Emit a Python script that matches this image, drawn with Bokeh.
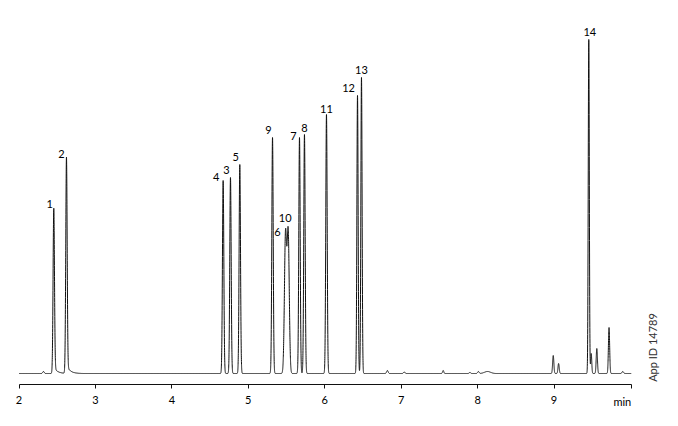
import numpy as np
from bokeh.plotting import figure
from bokeh.models import Range1d, FixedTicker, Label, ColumnDataSource, LinearAxis
from bokeh.core.properties import value
from bokeh.embed import file_html
from bokeh.resources import INLINE

# ---- data ----
peak_labels = ["1", "2", "4", "3", "5", "9", "6", "10", "7", "8", "11", "12", "13", "14"]
peak_times = [2.455, 2.621, 4.671, 4.767, 4.889, 5.317, 5.487, 5.522, 5.670, 5.735, 6.023, 6.429, 6.481, 9.455]
peak_heights = [162, 212, 193, 196, 209, 236, 138, 140, 236, 239, 259, 278, 296, 334]
peak_widths = [0.009, 0.009, 0.009, 0.009, 0.009, 0.009, 0.014, 0.014, 0.009, 0.009, 0.009, 0.008, 0.008, 0.007]
peak_tails = [0.04, 0.04, 0, 0, 0, 0, 0, 0, 0, 0, 0, 0, 0, 0]

minor_times = [2.32, 6.82, 7.04, 7.55, 7.90, 8.01, 8.13, 8.99, 9.06, 9.487, 9.56, 9.72, 9.90]
minor_heights = [2, 3, 1.5, 3, 1, 2, 2, 18, 10, 20, 25, 46, 2]
minor_widths = [0.01, 0.01, 0.01, 0.008, 0.01, 0.01, 0.04, 0.008, 0.008, 0.007, 0.008, 0.008, 0.01]

tick_values = [2, 3, 4, 5, 6, 7, 8, 9]
t_start, t_end = 2.0, 10.01

# ---- build trace from peak table ----
t = np.arange(t_start, t_end + 0.0005, 0.0005)
signal = np.zeros_like(t)
for tr, h, w, tf in zip(peak_times, peak_heights, peak_widths, peak_tails):
    signal += h * np.exp(-0.5 * ((t - tr) / w) ** 2)
    if tf > 0:
        step = 1.0 / (1.0 + np.exp(-(t - tr) / 0.006))
        signal += h * tf * np.exp(-np.clip(t - tr, 0, None) / 0.045) * step
for tr, h, w in zip(minor_times, minor_heights, minor_widths):
    signal += h * np.exp(-0.5 * ((t - tr) / w) ** 2)

# ---- figure ----
W, H = 662, 410
px_per_min = 76.43
x0 = t_start - 18.5 / px_per_min
x1 = x0 + W / px_per_min
p = figure(width=W, height=H, output_backend="svg", toolbar_location=None,
           x_range=Range1d(x0, x1), y_range=Range1d(-37, 373),
           x_axis_location=None, y_axis_location=None,
           min_border=0)
p.outline_line_color = None
p.grid.visible = False
p.background_fill_color = "white"
p.border_fill_color = "white"

p.line(t, signal, line_color="#111111", line_width=1)

# peak labels
label_dx = [-4, -5, -7, -4, -4, -4, -8, -3, -6, 0, 0, -9, 0, 1]
label_dy = [-8, -8, -4, -8, -8, -8, -4, -16, -2, -7, -6, -8, -8, -8]
src = ColumnDataSource(dict(x=peak_times, y=peak_heights, text=peak_labels,
                            dx=label_dx, dy=label_dy))
p.text(x="x", y="y", text="text", x_offset="dx", y_offset="dy", source=src,
       text_font=value("Lato"), text_font_size="11px", text_color="#000000",
       text_align="center", text_baseline="middle")

# x axis (bounded, drawn at fixed location inside the frame)
ax = LinearAxis(fixed_location=-11, bounds=(t_start, t_end),
                ticker=FixedTicker(ticks=tick_values + [t_end]))
ax.major_label_overrides = {t_end: ""}
ax.minor_tick_line_color = None
ax.major_tick_in = 0
ax.major_tick_out = 4
ax.axis_line_color = "#111111"
ax.major_tick_line_color = "#111111"
ax.major_label_text_font = "Lato"
ax.major_label_text_font_size = "11px"
ax.major_label_text_color = "#000000"
ax.major_label_standoff = 7
p.add_layout(ax, "below")

p.add_layout(Label(x=t_end, y=-28, text="min", text_align="right", text_baseline="middle",
                   text_font="Lato", text_font_size="11px", text_color="#000000"))
p.add_layout(Label(x=t_start + (652 - 18.5) / px_per_min, y=26, text="App ID 14789",
                   angle=np.pi / 2, text_align="center", text_baseline="middle",
                   text_font="Lato", text_font_size="11px", text_color="#333333"))

open("out.html", "w").write(file_html(p, INLINE))
